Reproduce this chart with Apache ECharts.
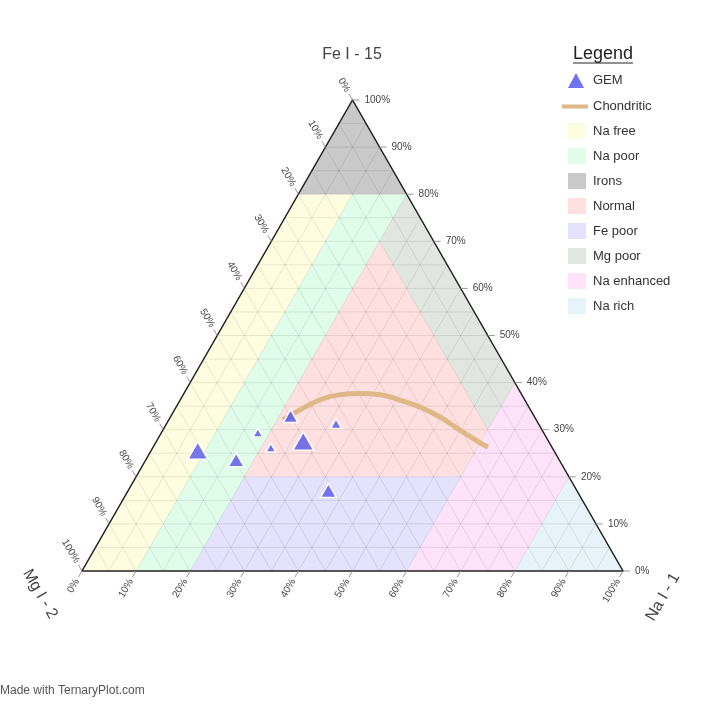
<!DOCTYPE html>
<html>
<head>
<meta charset="utf-8">
<script src="https://cdn.jsdelivr.net/npm/echarts@6/dist/echarts.min.js"></script>
<style>html,body{margin:0;padding:0;background:#fff}#chart{width:705px;height:705px}</style>
</head>
<body>
<div id="chart"></div>
<script>
// ---------- data ----------
const tickValues = [0, 10, 20, 30, 40, 50, 60, 70, 80, 90, 100];
const tickLabels = ['0%', '10%', '20%', '30%', '40%', '50%', '60%', '70%', '80%', '90%', '100%'];
const gridSteps = [5, 10, 15, 20, 25, 30, 35, 40, 45, 50, 55, 60, 65, 70, 75, 80, 85, 90, 95];

// GEM points (percent): Na I - 1, Fe I - 15, Mg I - 2, marker size
const gemNa = [8.6, 16.7, 17.8, 21.8, 22.1, 27.1, 31.3, 37.0];
const gemFe = [25.6, 23.6, 29.4, 26.2, 32.9, 27.6, 31.3, 17.1];
const gemMg = [65.8, 59.7, 52.8, 52.0, 45.0, 45.3, 37.4, 45.9];
const gemSize = [20, 16, 10, 10, 15, 21, 11, 16];

// Chondritic curve (percent)
const chondNa = [21.1, 23.2, 25.8, 29.0, 32.5, 36.4, 40.6, 45.1, 49.8, 54.9, 60.0, 61.9];
const chondFe = [32.1, 34.2, 36.3, 37.4, 37.7, 37.4, 36.3, 34.8, 32.7, 29.9, 27.2, 26.3];
const chondMg = [46.8, 42.6, 37.9, 33.6, 29.8, 26.2, 23.1, 20.1, 17.5, 15.2, 12.8, 11.8];

// Regions: vertices as [Na, Fe, Mg] percent
const regionNames = ['Na free', 'Na poor', 'Irons', 'Normal', 'Fe poor', 'Mg poor', 'Na enhanced', 'Na rich'];
const naFree = [[0, 0, 100], [10, 0, 90], [10, 80, 10], [0, 80, 20]];
const naPoor = [[10, 0, 90], [20, 0, 80], [20, 80, 0], [10, 80, 10]];
const irons = [[0, 80, 20], [20, 80, 0], [0, 100, 0]];
const normal = [[20, 20, 60], [60, 20, 20], [60, 30, 10], [20, 70, 10]];
const fePoor = [[20, 0, 80], [60, 0, 40], [60, 20, 20], [20, 20, 60]];
const mgPoor = [[20, 80, 0], [20, 70, 10], [60, 30, 10], [60, 40, 0]];
const naEnhanced = [[60, 0, 40], [80, 0, 20], [80, 20, 0], [60, 40, 0]];
const naRich = [[80, 0, 20], [100, 0, 0], [80, 20, 0]];
const outline = [[0, 0, 100], [100, 0, 0], [0, 100, 0]];

// ---------- styles ----------
const regionVerts = [naFree, naPoor, irons, normal, fePoor, mgPoor, naEnhanced, naRich];
const regionColors = ['#fffde0', '#e0fdea', '#c9c9c9', '#ffe0e0', '#e4e2fc', '#e2e6e1', '#fde2fa', '#e6f4fa'];
const FONT = '"Liberation Sans", Arial, sans-serif';

function tern(na, fe, mg) {
  const s = na + fe + mg;
  return [(na + fe / 2) / s, fe / s];
}

const series = [];
regionNames.forEach(function (name, i) {
  const verts = regionVerts[i];
  series.push({
    type: 'custom', name: name, coordinateSystem: 'cartesian2d', silent: true, z: 1,
    itemStyle: { color: regionColors[i] },
    data: [[0, 0]],
    renderItem: function (params, api) {
      return {
        type: 'polygon',
        shape: { points: verts.map(function (v) { return api.coord(tern(v[0], v[1], v[2])); }) },
        style: { fill: regionColors[i] }
      };
    }
  });
});

// grid lines
series.push({
  type: 'custom', coordinateSystem: 'cartesian2d', silent: true, z: 2,
  data: gridSteps.map(function (v) { return [v, 0]; }),
  renderItem: function (params, api) {
    const k = api.value(0);
    const st = { stroke: 'rgba(0,0,0,0.085)', lineWidth: 1 };
    function seg(a, b) {
      const p = api.coord(tern(a[0], a[1], a[2]));
      const q = api.coord(tern(b[0], b[1], b[2]));
      return { type: 'line', shape: { x1: p[0], y1: p[1], x2: q[0], y2: q[1] }, style: st };
    }
    return {
      type: 'group',
      children: [
        seg([0, k, 100 - k], [100 - k, k, 0]),
        seg([k, 0, 100 - k], [k, 100 - k, 0]),
        seg([100 - k, 0, k], [0, 100 - k, k])
      ]
    };
  }
});

// triangle outline
series.push({
  type: 'custom', coordinateSystem: 'cartesian2d', silent: true, z: 3,
  data: [[0, 0]],
  renderItem: function (params, api) {
    return {
      type: 'polygon',
      shape: { points: outline.map(function (v) { return api.coord(tern(v[0], v[1], v[2])); }) },
      style: { fill: 'none', stroke: '#222', lineWidth: 1.5 }
    };
  }
});

// ticks + labels for three axes
function tickSeries(pointFn, dir, rot, align) {
  return {
    type: 'custom', coordinateSystem: 'cartesian2d', silent: true, z: 3,
    data: tickValues.map(function (v, i) { return [v, i]; }),
    renderItem: function (params, api) {
      const v = api.value(0);
      const i = api.value(1);
      const t = pointFn(v);
      const p = api.coord(tern(t[0], t[1], t[2]));
      return {
        type: 'group',
        children: [
          { type: 'line', shape: { x1: p[0], y1: p[1], x2: p[0] + dir[0] * 7, y2: p[1] + dir[1] * 7 },
            style: { stroke: '#999', lineWidth: 1 } },
          { type: 'text', x: p[0] + dir[0] * (align === 'left' ? 12 : 10), y: p[1] + dir[1] * 10, rotation: rot,
            style: { text: tickLabels[i], font: '10px ' + FONT, fill: '#444', align: align, verticalAlign: 'middle' } }
        ]
      };
    }
  };
}
series.push(tickSeries(function (v) { return [100 - v, v, 0]; }, [1, 0], 0, 'left'));             // Fe
series.push(tickSeries(function (v) { return [0, 100 - v, v]; }, [-0.5, -0.866], -Math.PI / 3, 'right')); // Mg
series.push(tickSeries(function (v) { return [v, 0, 100 - v]; }, [-0.5, 0.866], Math.PI / 3, 'right'));   // Na

// Chondritic curve
series.push({
  type: 'line', name: 'Chondritic', z: 4, smooth: true, symbol: 'none', showSymbol: false, clip: false, silent: true,
  itemStyle: { color: '#deb887' },
  lineStyle: { color: '#deb887', width: 5 },
  data: chondNa.map(function (n, i) { return tern(n, chondFe[i], chondMg[i]); })
});

// GEM points
series.push({
  type: 'scatter', name: 'GEM', z: 5, symbol: 'triangle', clip: false,
  symbolSize: function (val) { return [val[2], val[2] * 0.87]; },
  itemStyle: { color: 'rgba(85,85,235,0.8)', borderColor: '#ffffff', borderWidth: 1.5, opacity: 1 },
  emphasis: { disabled: true },
  data: gemNa.map(function (n, i) { const c = tern(n, gemFe[i], gemMg[i]); return [c[0], c[1], gemSize[i]]; })
});

const legendText = { fontSize: 13, color: '#333', fontFamily: FONT };
const option = {
  animation: false,
  backgroundColor: '#ffffff',
  grid: { left: 0, right: 0, top: 0, bottom: 0, containLabel: false },
  xAxis: { type: 'value', min: -82 / 541, max: 623 / 541, show: false },
  yAxis: { type: 'value', min: -134 / 471, max: 571 / 471, show: false },
  legend: [
    { orient: 'vertical', left: 568, top: 73, padding: 0, itemWidth: 16, itemHeight: 15,
      data: [{ name: 'GEM', icon: 'triangle', itemStyle: { borderWidth: 0, color: 'rgba(100,100,240,0.9)' } }],
      textStyle: Object.assign({ padding: [0, 0, 0, 4] }, legendText), selectedMode: false },
    { orient: 'vertical', left: 562, top: 100, padding: 0, itemWidth: 26, itemHeight: 4,
      data: [{ name: 'Chondritic', icon: 'rect', itemStyle: { color: '#deb887' } }],
      textStyle: legendText, selectedMode: false },
    { orient: 'vertical', left: 568, top: 123, padding: 0, itemWidth: 18, itemHeight: 16, itemGap: 9,
      data: regionNames.map(function (n) { return { name: n, icon: 'rect' }; }),
      textStyle: Object.assign({ padding: [0, 0, 0, 2] }, legendText), selectedMode: false }
  ],
  graphic: [
    { type: 'text', x: 352, y: 55, style: { text: 'Fe I - 15', font: '16px ' + FONT, fill: '#444', align: 'center', verticalAlign: 'middle' } },
    { type: 'text', x: 40, y: 594, rotation: -Math.PI / 3, style: { text: 'Mg I - 2', font: '16px ' + FONT, fill: '#444', align: 'center', verticalAlign: 'middle' } },
    { type: 'text', x: 663, y: 597, rotation: Math.PI / 3, style: { text: 'Na I - 1', font: '16px ' + FONT, fill: '#444', align: 'center', verticalAlign: 'middle' } },
    { type: 'text', x: 603, y: 54, style: { text: 'Legend', font: '18px ' + FONT, fill: '#222', align: 'center', verticalAlign: 'middle' } },
    { type: 'line', shape: { x1: 573, y1: 63, x2: 633, y2: 63 }, style: { stroke: '#222', lineWidth: 1 } },
    { type: 'text', x: 0, y: 691, style: { text: 'Made with TernaryPlot.com', font: '12px ' + FONT, fill: '#555', align: 'left', verticalAlign: 'middle' } }
  ],
  series: series
};
const chart = echarts.init(document.getElementById('chart'), null, { renderer: 'canvas' });
chart.setOption(option);
</script>
</body>
</html>
